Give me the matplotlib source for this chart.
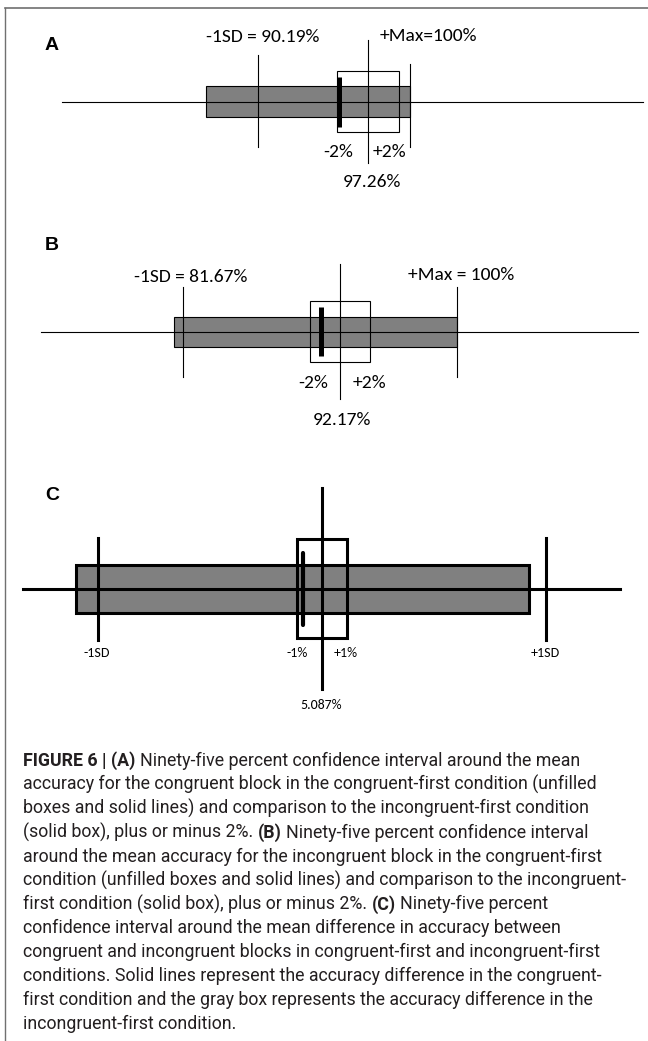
import matplotlib
matplotlib.use('Agg')
import matplotlib.pyplot as plt
from matplotlib import font_manager
from matplotlib.patches import Rectangle
from matplotlib.lines import Line2D

# values
panels = ['A', 'B', 'C']
means = [97.26, 92.17, 5.087]
lower_sd = [90.19, 81.67, -3.87]
upper_mark = [100, 100, 14.05]
band = [2, 2, 1]
gray_lo = [86.8, 81.1, -4.75]
gray_hi = [100, 100, 13.4]
incong_mean = [95.4, 90.9, 4.35]

lower_labels = ['-1SD = 90.19%', '-1SD = 81.67%', '-1SD']
upper_labels = ['+Max=100%', '+Max = 100%', '+1SD']
mean_labels = ['97.26%', '92.17%', '5.087%']
band_labels = [('-2%', '+2%'), ('-2%', '+2%'), ('-1%', '+1%')]

caption = [
    [('FIGURE 6 | (A)', True), (' Ninety-five percent confidence interval around the mean', False)],
    [('accuracy for the congruent block in the congruent-first condition (unfilled', False)],
    [('boxes and solid lines) and comparison to the incongruent-first condition', False)],
    [('(solid box), plus or minus 2%. ', False), ('(B)', True), (' Ninety-five percent confidence interval', False)],
    [('around the mean accuracy for the incongruent block in the congruent-first', False)],
    [('condition (unfilled boxes and solid lines) and comparison to the incongruent-', False)],
    [('first condition (solid box), plus or minus 2%. ', False), ('(C)', True), (' Ninety-five percent', False)],
    [('confidence interval around the mean difference in accuracy between', False)],
    [('congruent and incongruent blocks in congruent-first and incongruent-first', False)],
    [('conditions. Solid lines represent the accuracy difference in the congruent-', False)],
    [('first condition and the gray box represents the accuracy difference in the', False)],
    [('incongruent-first condition.', False)],
]

W, H = 648, 1041
names = {f.name for f in font_manager.fontManager.ttflist}
cap_font = 'Liberation Sans Narrow' if 'Liberation Sans Narrow' in names else 'Roboto'
lab_font = 'Carlito' if 'Carlito' in names else 'Lato'

fig = plt.figure(figsize=(W / 100, H / 100), dpi=100)
fig.patch.set_facecolor('white')

# page frame (top and left rule)
fig.add_artist(Line2D([5 / W, 1], [1 - 8 / H, 1 - 8 / H], color='#707070', lw=1.2))
fig.add_artist(Line2D([5 / W, 5 / W], [0, 1 - 8 / H], color='#707070', lw=1.0))

# layout per panel (pixels)
baseline = [101.7, 331.7, 588.5]
px_per_unit = [15.5, 15.0, 25.0]
mean_px = [368, 340, 321.5]
axis_span = [(62, 643), (41, 638), (23, 620)]
lw_list = [0.8, 0.8, 2.2]
thick_lw = [3.6, 3.6, 3.0]
bar_h = [15.5, 15, 24]
box_h = [30.5, 30.5, 49.5]
tk_h = [25, 24.5, 36]
sd_ext = [(46.7, -45.3), (45, -45), (51, -51)]
up_ext = [(37.7, -45.3), (45, -45), (51, -51)]
mean_ext = [(61.7, -61.3), (67.5, -67.5), (100.5, -100.5)]
lab_size = [14, 14, 10]
lower_off = [(4, 64.7), (8, 54.7), (-1, -64.5)]
upper_off = [(18, 65.7), (4, 56.7), (0, -64.5)]
band_off = [(-15, 5, -50.3), (-11.5, 13, -51.3), (-13.5, 12.5, -64.5)]
mean_off = [(4, -80.3), (2, -88.3), (0, -116.5)]
letter_y = [45, 245, 495]

hh = 130
for i, name in enumerate(panels):
    b = baseline[i]
    ax = fig.add_axes([0, 1 - (b + hh) / H, 1, 2 * hh / H])
    ax.axis('off')
    s = px_per_unit[i]
    ax.set_xlim(means[i] - mean_px[i] / s, means[i] + (W - mean_px[i]) / s)
    ax.set_ylim(-hh, hh)
    lw = lw_list[i]

    ax.axhline(0, xmin=axis_span[i][0] / W, xmax=axis_span[i][1] / W, color='black', lw=lw, zorder=2)
    ax.add_patch(Rectangle((gray_lo[i], -bar_h[i]), gray_hi[i] - gray_lo[i], 2 * bar_h[i],
                           facecolor='#808080', edgecolor='black', lw=lw, zorder=1))
    ax.add_patch(Rectangle((means[i] - band[i], -box_h[i]), 2 * band[i], 2 * box_h[i],
                           fill=False, edgecolor='black', lw=lw, zorder=3))
    ax.plot([lower_sd[i]] * 2, [sd_ext[i][1], sd_ext[i][0]], color='black', lw=lw, zorder=3)
    ax.plot([upper_mark[i]] * 2, [up_ext[i][1], up_ext[i][0]], color='black', lw=lw, zorder=3)
    ax.plot([means[i]] * 2, [mean_ext[i][1], mean_ext[i][0]], color='black', lw=lw, zorder=3)
    ax.plot([incong_mean[i]] * 2, [-tk_h[i], tk_h[i]], color='black', lw=thick_lw[i], zorder=4,
            solid_capstyle='round' if i == 2 else 'butt')

    kw = dict(textcoords='offset pixels', va='center', fontsize=lab_size[i], family=lab_font)
    ax.annotate(lower_labels[i], (lower_sd[i], 0), xytext=lower_off[i], ha='center', **kw)
    ax.annotate(upper_labels[i], (upper_mark[i], 0), xytext=upper_off[i], ha='center', **kw)
    ax.annotate(band_labels[i][0], (means[i], 0), xytext=(band_off[i][0], band_off[i][2]), ha='right', **kw)
    ax.annotate(band_labels[i][1], (means[i], 0), xytext=(band_off[i][1], band_off[i][2]), ha='left', **kw)
    ax.annotate(mean_labels[i], (means[i], 0), xytext=mean_off[i], ha='center', **kw)

    fig.text(45 / W, 1 - letter_y[i] / H, name, fontsize=14, fontweight='bold',
             family='Liberation Sans', va='center', ha='left')

# caption, drawn run by run so bold pieces sit inline
renderer = fig.canvas.get_renderer()


def text_width(s, size, bold):
    t = fig.text(0, 0, s, fontsize=size, fontweight='bold' if bold else 'normal', family=cap_font)
    w = t.get_window_extent(renderer).width
    t.remove()
    return w


# scale the caption so its widest line ends where the reference's does
widest = max(sum(text_width(txt, 14, bold) for txt, bold in runs) for runs in caption)
size = 14 * 606 / widest

for k, runs in enumerate(caption):
    y = 766 + 23.9 * k
    x = 23
    for txt, bold in runs:
        lead = len(txt) - len(txt.lstrip(' '))
        trail = len(txt) - len(txt.rstrip(' '))
        sp = text_width('x x', size, bold) - text_width('xx', size, bold)
        x += lead * sp
        t = fig.text(x / W, 1 - y / H, txt.strip(' '), fontsize=size,
                     fontweight='bold' if bold else 'normal', family=cap_font,
                     va='baseline', ha='left', color='#231f20')
        x += t.get_window_extent(renderer).width + trail * sp

fig.savefig('out.png', dpi=100, facecolor='white')
